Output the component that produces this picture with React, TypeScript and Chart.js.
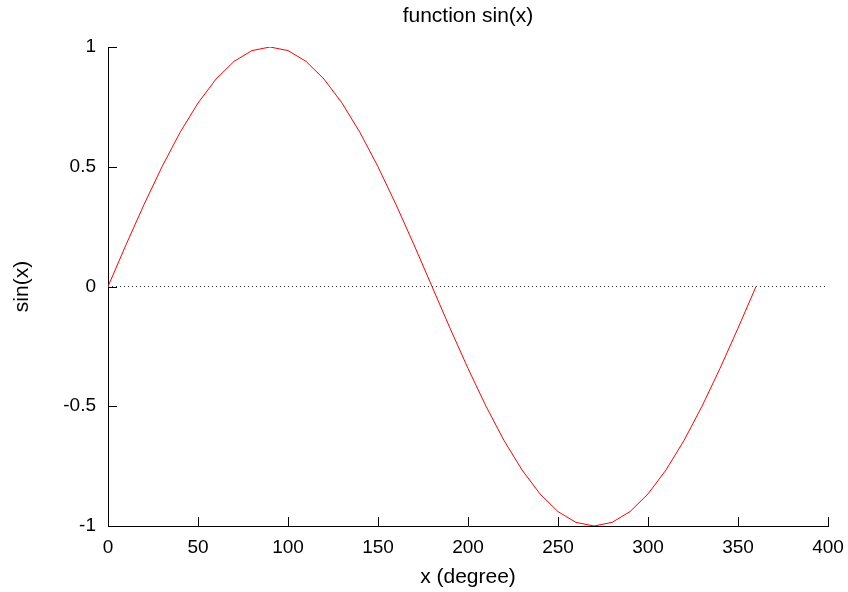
import React, { useEffect, useRef } from 'react';
import { Chart, registerables } from 'chart.js';

Chart.register(...registerables);

// Sample angles (degrees) and the plotted sin values
const xDegrees = [0, 10, 20, 30, 40, 50, 60, 70, 80, 90, 100, 110, 120, 130, 140, 150, 160, 170, 180,
  190, 200, 210, 220, 230, 240, 250, 260, 270, 280, 290, 300, 310, 320, 330, 340, 350, 360];
const sinValues = [0, 0.174, 0.342, 0.5, 0.643, 0.766, 0.866, 0.94, 0.985, 1, 0.985, 0.94, 0.866, 0.766,
  0.643, 0.5, 0.342, 0.174, 0, -0.174, -0.342, -0.5, -0.643, -0.766, -0.866, -0.94, -0.985, -1, -0.985,
  -0.94, -0.866, -0.766, -0.643, -0.5, -0.342, -0.174, 0];
const zeroLineX = [0, 400];
const zeroLineY = [0, 0];

const xMin = 0;
const xMax = 400;
const xStep = 50;
const yMin = -1;
const yMax = 1;
const yStep = 0.5;

const titleText = 'function sin(x)';
const xTitle = 'x (degree)';
const yTitle = 'sin(x)';

const FONT = "'Liberation Sans', Arial, Helvetica, sans-serif";
const TICK_SIZE = 19;
const TITLE_SIZE = 21;

const centeredTitle = {
  id: 'centeredTitle',
  afterDraw(chart: any) {
    const { ctx, chartArea } = chart;
    ctx.save();
    ctx.fillStyle = '#000';
    ctx.font = `normal ${TITLE_SIZE}px ${FONT}`;
    ctx.textAlign = 'center';
    ctx.textBaseline = 'middle';
    ctx.fillText(titleText, (chartArea.left + chartArea.right) / 2, 16);
    ctx.restore();
  },
};

const inwardTicks = {
  id: 'inwardTicks',
  afterDatasetsDraw(chart: any) {
    const { ctx, chartArea, scales } = chart;
    const xs = scales.x;
    const ys = scales.y;
    const len = 9;
    ctx.save();
    ctx.strokeStyle = '#000';
    ctx.lineWidth = 1;
    ctx.beginPath();
    xs.ticks.forEach((t: any) => {
      const px = Math.round(xs.getPixelForValue(t.value)) + 0.5;
      ctx.moveTo(px, chartArea.bottom);
      ctx.lineTo(px, chartArea.bottom - len);
    });
    ys.ticks.forEach((t: any) => {
      const py = Math.round(ys.getPixelForValue(t.value)) + 0.5;
      ctx.moveTo(chartArea.left, py);
      ctx.lineTo(chartArea.left + len, py);
    });
    ctx.stroke();
    ctx.restore();
  },
};

export default function App() {
  const ref = useRef<HTMLCanvasElement | null>(null);

  useEffect(() => {
    if (!ref.current) return;
    const chart = new Chart(ref.current, {
      type: 'line',
      data: {
        datasets: [
          {
            label: 'sin(x)',
            data: xDegrees.map((x, i) => ({ x, y: sinValues[i] })),
            borderColor: '#ff0000',
            borderWidth: 1,
            pointRadius: 0,
            tension: 0,
            fill: false,
          },
          {
            label: 'zero',
            data: zeroLineX.map((x, i) => ({ x, y: zeroLineY[i] })),
            borderColor: '#333',
            borderWidth: 1,
            borderDash: [1, 3],
            pointRadius: 0,
            fill: false,
          },
        ],
      },
      options: {
        animation: false,
        responsive: false,
        events: [],
        layout: { padding: { left: 0, right: 20, top: 47, bottom: 0 } },
        plugins: {
          legend: { display: false },
          tooltip: { enabled: false },
          title: { display: false },
        },
        scales: {
          x: {
            type: 'linear',
            min: xMin,
            max: xMax,
            afterFit: (s: any) => {
              s.height = 66;
              s.paddingLeft = 0;
              s.paddingRight = 0;
            },
            ticks: {
              stepSize: xStep,
              color: '#000',
              padding: 10,
              maxRotation: 0,
              font: { family: FONT, size: TICK_SIZE },
              callback: (v: any) => `${v}`,
            },
            grid: { display: false, drawTicks: false },
            border: { display: true, color: '#000', width: 1 },
            title: {
              display: true,
              text: xTitle,
              color: '#000',
              font: { family: FONT, size: TITLE_SIZE, lineHeight: 1.2 },
              padding: { top: 0, bottom: 2.4 },
            },
          },
          y: {
            type: 'linear',
            min: yMin,
            max: yMax,
            afterFit: (s: any) => { s.width = 108; },
            ticks: {
              stepSize: yStep,
              color: '#000',
              padding: 12,
              font: { family: FONT, size: TICK_SIZE },
              callback: (v: any) => `${v}`,
            },
            grid: { display: false, drawTicks: false },
            border: { display: true, color: '#000', width: 1 },
            title: {
              display: true,
              text: yTitle,
              color: '#000',
              font: { family: FONT, size: TITLE_SIZE, lineHeight: 1.2 },
              padding: { top: 10, bottom: 0 },
            },
          },
        },
      },
      plugins: [inwardTicks, centeredTitle],
    });
    return () => chart.destroy();
  }, []);

  return (
    <div style={{ position: 'absolute', left: 0, top: 0, width: 848, height: 592, background: '#fff' }}>
      <canvas ref={ref} width={848} height={592} style={{ display: 'block' }} />
    </div>
  );
}
